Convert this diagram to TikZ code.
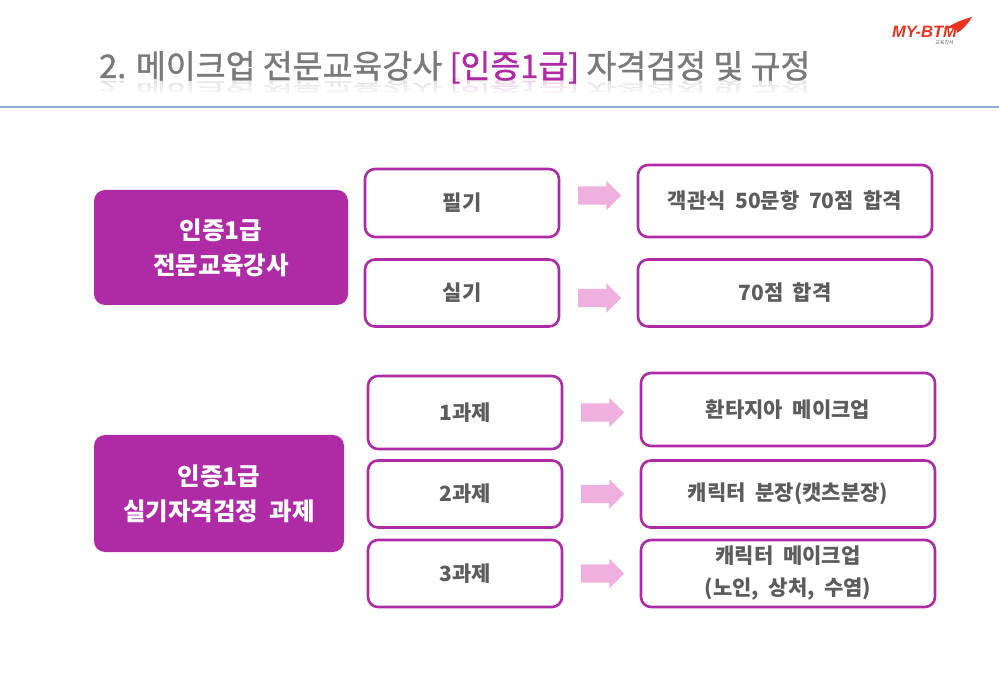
\documentclass[tikz,border=0pt]{standalone}
\usepackage{fontspec}
\usepackage{xcolor}
\usepackage{tikz}
\usetikzlibrary{shapes.arrows, positioning, fadings}
\setmainfont[WordSpace=2]{Noto Sans CJK KR}
\newfontfamily\titlefont[FakeBold=1.2]{Noto Sans CJK KR}
\newfontfamily\logofont{Liberation Sans}
\definecolor{plum}{HTML}{AE2BA5}
\definecolor{lightplum}{HTML}{EFB0E0}
\definecolor{textgray}{HTML}{5C5C5C}
\definecolor{titlegray}{HTML}{7A7A7A}
\definecolor{rulecolor}{HTML}{8FA9CF}
\definecolor{logored}{HTML}{E8331F}
\tikzstyle{headbox} = [rectangle, rounded corners=11pt, minimum width=254pt, minimum height=115pt, align=center, outer sep=0pt, fill=plum, text=white, font=\bfseries\fontsize{24.5}{35}\selectfont]
\tikzstyle{itembox} = [rectangle, rounded corners=10pt, minimum width=194pt, minimum height=67pt, align=center, outer sep=0pt, draw=plum, line width=2.6pt, fill=white, text=textgray, font=\bfseries\fontsize{21}{32}\selectfont]
\tikzstyle{resultbox} = [itembox, minimum width=294pt]
\tikzstyle{blockarrow} = [single arrow, single arrow head extend=5.5pt, single arrow head indent=0pt, minimum height=43pt, inner xsep=0pt, inner ysep=9pt, outer sep=0pt, fill=lightplum]

\newcommand{\titletext}{2. 메이크업 전문교육강사 \textcolor{plum}{[인증1급]} 자격검정 및 규정}

\begin{document}
\begin{tikzpicture}[x=1pt, y=-1pt]
    \useasboundingbox (0,0) rectangle (999,692);
    \fill[white] (0,0) rectangle (999,692);

    % title, with its faint mirror image
    \node[anchor=base west, inner sep=0pt, opacity=0.2, yscale=-0.45, transform shape, text=titlegray, font=\titlefont\fontsize{32.5}{33}\selectfont] (titlemirror) at (99,81) {\titletext};
    \fill[white, path fading=north] (90,80) rectangle (820,97);
    \node[anchor=base west, inner sep=0pt, text=titlegray, font=\titlefont\fontsize{32.5}{33}\selectfont] (title) at (99,78) {\titletext};
    \coordinate (ruleleft) at (0,107);
    \coordinate (ruleright) at (999,107);
    \draw[rulecolor, line width=1.3pt] (ruleleft) -- (ruleright);

    % logo
    \node[anchor=west, inner sep=0pt, text=logored, font=\logofont\bfseries\itshape\fontsize{16.5}{17}\selectfont] (logo) at (892,32) {MY-BTM};
    \node[inner sep=0pt, text=textgray, font=\fontsize{5}{5}\selectfont, below right=2pt and -22pt of logo] (logosub) {교육강사};
    \fill[logored] (944,29) .. controls (952,25) and (957,21) .. (972,17) .. controls (968,24) and (962,30) .. (957,33) .. controls (958,28) and (952,27) .. (944,29);

    % upper group
    \node[headbox] (grade) at (221,247.5) {인증1급\\전문교육강사};
    \node[itembox, minimum height=68pt] (written) at (462,203) {필기};
    \node[itembox, below=22.5pt of written] (practical) {실기};
    \node[blockarrow, right=19pt of written, yshift=7.5pt] (arrowa) {};
    \node[blockarrow, right=19pt of practical, yshift=-5pt] (arrowb) {};
    \node[resultbox, minimum height=72pt, right=79pt of written, yshift=2pt] (writtenres) {객관식 50문항 70점 합격};
    \node[resultbox, right=79pt of practical] (practicalres) {70점 합격};

    % lower group
    \node[headbox, minimum width=250pt, minimum height=117pt] (exam) at (219,493.5) {인증1급\\실기자격검정 과제};
    \node[itembox, minimum height=73pt] (taska) at (465,412.5) {1과제};
    \node[itembox, below=11.5pt of taska] (taskb) {2과제};
    \node[itembox, below=12.5pt of taskb] (taskc) {3과제};
    \node[blockarrow, right=19pt of taska] (arrowc) {};
    \node[blockarrow, right=19pt of taskb] (arrowd) {};
    \node[blockarrow, right=19pt of taskc] (arrowe) {};
    \node[resultbox, minimum height=73pt, right=79pt of taska, yshift=3pt] (taskares) {환타지아 메이크업};
    \node[resultbox, right=79pt of taskb] (taskbres) {캐릭터 분장(캣츠분장)};
    \node[resultbox, right=79pt of taskc] (taskcres) {캐릭터 메이크업\\(노인, 상처, 수염)};
\end{tikzpicture}
\end{document}
